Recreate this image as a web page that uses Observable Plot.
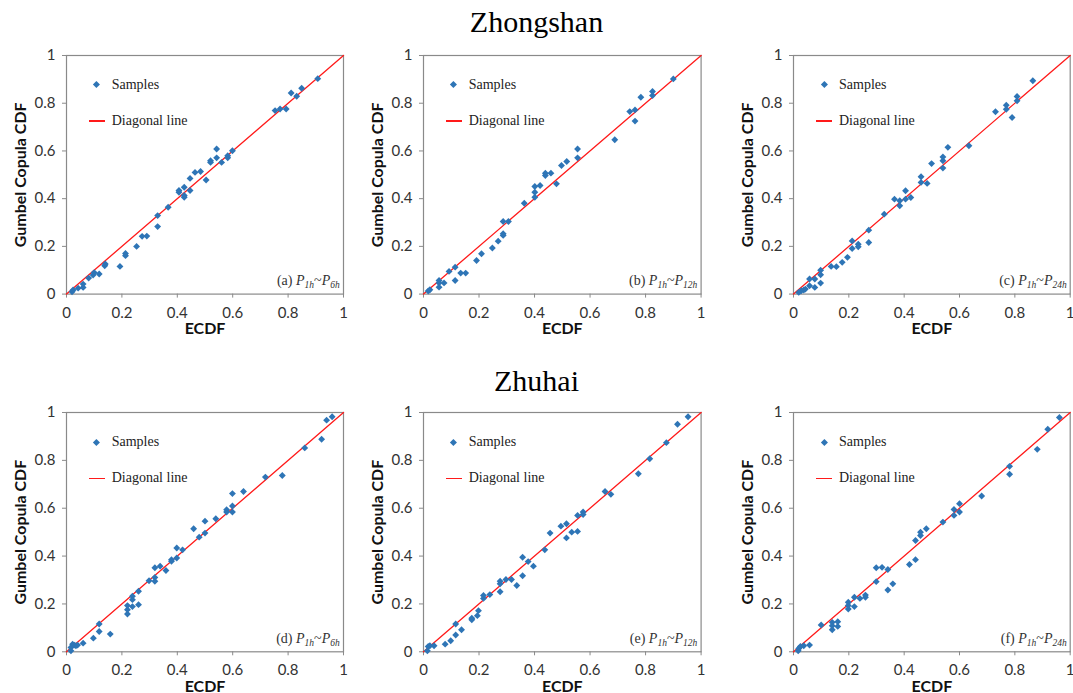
<!DOCTYPE html>
<html><head><meta charset="utf-8">
<script src="https://cdn.jsdelivr.net/npm/d3@7"></script>
<script src="https://cdn.jsdelivr.net/npm/@observablehq/plot@0.6"></script>
<style>
html,body{margin:0;padding:0;background:#fff}
body{width:1073px;height:693px;overflow:hidden;position:relative;font-family:Lato,sans-serif}
.title{position:absolute;left:0;width:1073px;text-align:center;font-family:"Liberation Serif","Times New Roman",serif;font-size:30px;line-height:30px;color:#000}
.panel{position:absolute}
.panel svg{overflow:visible;display:block;max-width:none !important}
.panel g[aria-label="x-axis label"] text,.panel g[aria-label="y-axis label"] text{font-weight:700;font-size:16px;fill:#111}
.panel g[aria-label="x-axis tick"],.panel g[aria-label="y-axis tick"]{stroke:#8a8a8a}
.overlay{position:absolute;pointer-events:none;font-family:"Liberation Serif","Times New Roman",serif;color:#222}
.lg-dia{position:absolute;width:4.8px;height:4.8px;background:#2e75b6;transform:rotate(45deg)}
.lg-line{position:absolute;height:1.4px;background:#ff1a1a}
.lg-text{position:absolute;font-size:14px;line-height:14px;white-space:nowrap}
.plabel{position:absolute;right:3px;bottom:4px;font-size:14px;line-height:14px;white-space:nowrap;color:#333}
.plabel i{font-style:italic}
.plabel sub{font-size:9.5px;vertical-align:baseline;position:relative;top:2.5px;font-style:italic}
</style></head><body>
<script>
// ---------- data ----------
const cities = ["Zhongshan", "Zhuhai"];
const panelTags = ["(a)", "(b)", "(c)", "(d)", "(e)", "(f)"];
const durations = ["6h", "12h", "24h"];
const tickValues = [0, 0.2, 0.4, 0.6, 0.8, 1];
const tickLabels = ["0", "0.2", "0.4", "0.6", "0.8", "1"];
const diagonal = [0, 1];
const legendSamples = "Samples";
const legendDiagonal = "Diagonal line";
const xTitle = "ECDF";
const yTitle = "Gumbel Copula CDF";

// Zhongshan P1h~P6h
const zs6Ecdf = [0.02,0.024,0.042,0.06,0.06,0.08,0.096,0.10,0.118,0.138,0.14,0.193,0.213,0.213,0.253,0.273,0.29,0.329,0.329,0.367,0.406,0.406,0.425,0.425,0.425,0.446,0.446,0.464,0.484,0.504,0.52,0.52,0.542,0.542,0.56,0.582,0.582,0.599,0.753,0.771,0.793,0.811,0.831,0.849,0.907];
const zs6Cdf  = [0.01,0.017,0.025,0.028,0.042,0.067,0.08,0.09,0.084,0.119,0.126,0.116,0.161,0.17,0.2,0.242,0.243,0.283,0.329,0.364,0.434,0.427,0.448,0.413,0.406,0.434,0.485,0.51,0.514,0.478,0.552,0.559,0.608,0.571,0.552,0.571,0.58,0.601,0.769,0.776,0.776,0.843,0.829,0.863,0.903];
// Zhongshan P1h~P12h
const zs12Ecdf = [0.017,0.023,0.056,0.056,0.056,0.074,0.092,0.114,0.114,0.134,0.152,0.191,0.209,0.248,0.269,0.287,0.287,0.287,0.306,0.363,0.401,0.401,0.401,0.42,0.439,0.439,0.459,0.479,0.497,0.516,0.555,0.555,0.689,0.743,0.762,0.762,0.783,0.825,0.825,0.9];
const zs12Cdf  = [0.013,0.018,0.057,0.047,0.029,0.047,0.095,0.113,0.057,0.088,0.088,0.141,0.169,0.193,0.222,0.246,0.253,0.304,0.304,0.381,0.406,0.427,0.451,0.455,0.497,0.507,0.507,0.462,0.539,0.556,0.571,0.608,0.647,0.765,0.772,0.725,0.825,0.832,0.849,0.902];
// Zhongshan P1h~P24h
const zs24Ecdf = [0.019,0.028,0.037,0.043,0.058,0.058,0.077,0.077,0.098,0.098,0.098,0.136,0.155,0.176,0.195,0.212,0.212,0.234,0.234,0.272,0.272,0.328,0.365,0.384,0.384,0.405,0.405,0.424,0.461,0.461,0.483,0.499,0.54,0.54,0.54,0.558,0.634,0.73,0.769,0.769,0.79,0.808,0.808,0.865];
const zs24Cdf  = [0.007,0.014,0.017,0.021,0.063,0.035,0.063,0.028,0.1,0.081,0.046,0.116,0.115,0.133,0.154,0.223,0.191,0.209,0.198,0.268,0.216,0.335,0.398,0.391,0.37,0.433,0.398,0.405,0.492,0.468,0.464,0.547,0.575,0.559,0.528,0.615,0.622,0.764,0.792,0.775,0.74,0.828,0.81,0.894];
// Zhuhai P1h~P6h
const zh6Ecdf = [0.016,0.016,0.022,0.028,0.034,0.04,0.06,0.097,0.118,0.118,0.158,0.22,0.22,0.22,0.238,0.238,0.238,0.26,0.26,0.298,0.319,0.319,0.319,0.338,0.359,0.379,0.379,0.398,0.398,0.419,0.459,0.479,0.5,0.5,0.539,0.578,0.578,0.599,0.599,0.599,0.639,0.718,0.779,0.86,0.921,0.939,0.959];
const zh6Cdf  = [0.004,0.018,0.032,0.028,0.025,0.028,0.036,0.057,0.116,0.085,0.074,0.158,0.176,0.193,0.218,0.232,0.189,0.253,0.197,0.297,0.311,0.295,0.351,0.358,0.34,0.385,0.378,0.392,0.434,0.426,0.514,0.479,0.496,0.546,0.556,0.594,0.584,0.609,0.584,0.661,0.67,0.73,0.737,0.852,0.888,0.968,0.982];
// Zhuhai P1h~P12h
const zh12Ecdf = [0.014,0.017,0.023,0.038,0.078,0.098,0.116,0.116,0.137,0.174,0.174,0.194,0.198,0.216,0.216,0.239,0.276,0.276,0.276,0.297,0.317,0.336,0.357,0.357,0.377,0.396,0.437,0.456,0.495,0.515,0.515,0.534,0.555,0.555,0.575,0.575,0.654,0.675,0.774,0.815,0.875,0.915,0.953];
const zh12Cdf  = [0.004,0.022,0.025,0.025,0.032,0.046,0.07,0.116,0.092,0.134,0.14,0.151,0.172,0.223,0.235,0.239,0.251,0.284,0.295,0.302,0.302,0.277,0.318,0.395,0.377,0.358,0.426,0.496,0.525,0.535,0.476,0.5,0.503,0.57,0.584,0.574,0.67,0.658,0.744,0.807,0.874,0.951,0.982];
// Zhuhai P1h~P24h
const zh24Ecdf = [0.017,0.019,0.025,0.037,0.058,0.1,0.14,0.14,0.14,0.16,0.16,0.198,0.198,0.198,0.22,0.22,0.24,0.26,0.26,0.299,0.299,0.32,0.341,0.341,0.359,0.419,0.441,0.441,0.459,0.459,0.48,0.54,0.58,0.58,0.6,0.6,0.68,0.781,0.781,0.881,0.919,0.961];
const zh24Cdf  = [0.004,0.014,0.022,0.025,0.028,0.112,0.092,0.123,0.109,0.126,0.106,0.179,0.193,0.207,0.189,0.228,0.223,0.228,0.237,0.293,0.351,0.353,0.344,0.258,0.284,0.365,0.385,0.465,0.486,0.5,0.514,0.542,0.57,0.595,0.584,0.619,0.651,0.775,0.742,0.846,0.93,0.979];

const seriesEcdf = [zs6Ecdf, zs12Ecdf, zs24Ecdf, zh6Ecdf, zh12Ecdf, zh24Ecdf];
const seriesCdf  = [zs6Cdf, zs12Cdf, zs24Cdf, zh6Cdf, zh12Cdf, zh24Cdf];

// ---------- layout ----------
const colX0 = [65.7, 422.7, 793];
const colX1 = [342.7, 700.3, 1069.7];
const rowY1 = [54.7, 412.2];
const rowY0 = [293.3, 651.5];
const titleTop = [7, 366];
const ML = 62, MR = 12, MT = 10, MB = 42;
const BLUE = "#2e75b6", RED = "#ff1a1a";

function el(tag, cls, parent) { const e = document.createElement(tag); if (cls) e.className = cls; parent.appendChild(e); return e; }

cities.forEach((c, r) => {
  const t = el("div", "title", document.body);
  t.textContent = c;
  t.style.top = titleTop[r] + "px";
});

for (let k = 0; k < 6; k++) {
  const r = Math.floor(k / 3), c = k % 3;
  const w = colX1[c] - colX0[c], h = rowY0[r] - rowY1[r];
  const data = seriesEcdf[k].map((x, i) => ({ecdf: x, cdf: seriesCdf[k][i]}));
  const fmt = d => tickLabels[tickValues.indexOf(d)];
  const W = ML + w + MR, H = MT + h + MB;
  const chart = Plot.plot({
    width: W, height: H,
    marginLeft: ML, marginRight: MR, marginTop: MT, marginBottom: MB,
    style: {fontFamily: "Lato, sans-serif", fontSize: "15px", color: "#333", background: "transparent", overflow: "visible", maxWidth: "none"},
    x: {domain: [0, 1], ticks: tickValues, tickFormat: fmt, tickSize: 4, tickPadding: 9,
        label: xTitle, labelAnchor: "center", labelOffset: 40, labelArrow: "none"},
    y: {domain: [0, 1], ticks: tickValues, tickFormat: fmt, tickSize: 4, tickPadding: 7,
        label: yTitle, labelAnchor: "center", labelOffset: 52, labelArrow: "none"},
    marks: [
      Plot.frame({stroke: "#8a8a8a", strokeWidth: 1.2}),
      Plot.line(diagonal, {x: d => d, y: d => d, stroke: RED, strokeWidth: 1.3}),
      Plot.dot(data, {x: "ecdf", y: "cdf", symbol: "diamond2", r: 3.1, fill: BLUE, stroke: "none"})
    ]
  });
  chart.setAttribute("width", W); chart.setAttribute("height", H);
  chart.style.width = W + "px"; chart.style.height = H + "px";
  const holder = el("div", "panel", document.body);
  holder.style.left = (colX0[c] - ML) + "px";
  holder.style.top = (rowY1[r] - MT) + "px";
  holder.style.width = W + "px"; holder.style.height = H + "px";
  holder.appendChild(chart);

  // legend + panel label overlay in frame coordinates
  const ov = el("div", "overlay", document.body);
  ov.style.left = colX0[c] + "px"; ov.style.top = rowY1[r] + "px";
  ov.style.width = w + "px"; ov.style.height = h + "px";
  const dia = el("div", "lg-dia", ov); dia.style.left = (31 - 2.4) + "px"; dia.style.top = (30 - 2.4) + "px";
  const s = el("div", "lg-text", ov); s.textContent = legendSamples; s.style.left = "46px"; s.style.top = "23px";
  const ln = el("div", "lg-line", ov); ln.style.left = "23px"; ln.style.width = "16px"; ln.style.top = "65.5px";
  const dl = el("div", "lg-text", ov); dl.textContent = legendDiagonal; dl.style.left = "46px"; dl.style.top = "59px";
  const pl = el("div", "plabel", ov);
  pl.innerHTML = panelTags[k] + " <i>P</i><sub>1h</sub>~<i>P</i><sub>" + durations[c] + "</sub>";
}
</script>
</body></html>
